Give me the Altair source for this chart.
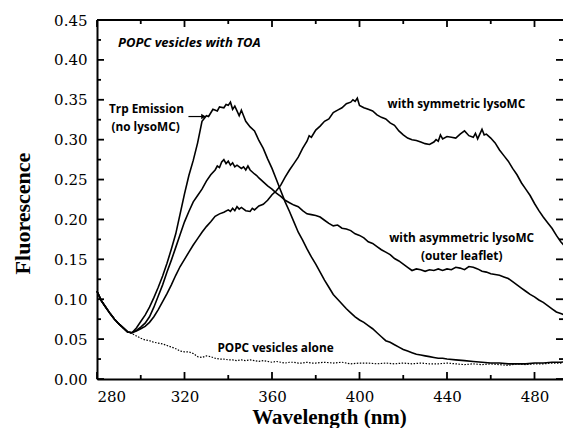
import altair as alt
import pandas as pd

# ---------------- data ----------------
# shared start of every curve (280-294 nm)
nm_start = [280, 282, 284, 286, 288, 290, 292, 294]
val_start = [0.110, 0.098, 0.090, 0.082, 0.075, 0.069, 0.064, 0.059]

# Trp emission (no lysoMC)
nm_trp = [296, 298, 300, 302, 304, 306, 308, 310, 312, 314, 316, 318, 320, 322, 324, 326, 328,
          330, 331, 333, 335, 336, 338, 339, 340, 341, 342, 343, 344, 345, 346, 347, 348, 350,
          352, 353, 354, 356, 358, 360, 362, 364, 366, 368, 370, 372, 374, 376, 378, 380, 382,
          384, 386, 388, 390, 392, 394, 396, 398, 400, 402, 404, 406, 408, 410, 412, 414, 416,
          418, 420, 422, 424, 426, 428, 430, 432, 434, 436, 438, 440, 444, 448, 452, 456, 460,
          464, 468, 472, 476, 480, 484, 488, 492, 496]
val_trp = [0.058, 0.064, 0.072, 0.080, 0.090, 0.102, 0.115, 0.129, 0.145, 0.163, 0.182, 0.207,
           0.232, 0.255, 0.274, 0.296, 0.323, 0.330, 0.329, 0.338, 0.336, 0.341, 0.340, 0.344,
           0.343, 0.347, 0.338, 0.342, 0.336, 0.330, 0.337, 0.330, 0.323, 0.316, 0.311, 0.305,
           0.299, 0.289, 0.276, 0.264, 0.250, 0.236, 0.222, 0.210, 0.197, 0.184, 0.174, 0.163,
           0.153, 0.144, 0.134, 0.124, 0.115, 0.106, 0.100, 0.094, 0.088, 0.083, 0.078, 0.074,
           0.071, 0.067, 0.063, 0.058, 0.053, 0.048, 0.046, 0.043, 0.040, 0.037, 0.035, 0.033,
           0.031, 0.030, 0.029, 0.028, 0.027, 0.026, 0.026, 0.025, 0.024, 0.023, 0.022, 0.021,
           0.020, 0.020, 0.019, 0.019, 0.019, 0.020, 0.020, 0.021, 0.021, 0.022]

# with asymmetric lysoMC (outer leaflet)
nm_asym = [296, 298, 300, 302, 304, 306, 308, 310, 312, 314, 316, 318, 320, 322, 324, 326, 328,
           330, 332, 334, 335, 336, 337, 338, 339, 340, 341, 342, 343, 344, 346, 347, 348, 349,
           350, 352, 353, 354, 356, 358, 360, 362, 364, 366, 368, 370, 372, 374, 376, 378, 380,
           382, 384, 386, 388, 390, 392, 394, 396, 398, 400, 402, 404, 406, 408, 410, 412, 414,
           416, 418, 420, 422, 424, 426, 428, 430, 432, 434, 436, 438, 440, 442, 444, 446, 448,
           450, 452, 454, 456, 458, 460, 462, 464, 466, 468, 470, 472, 474, 476, 478, 480, 482,
           484, 486, 488, 490, 492, 494, 496]
val_asym = [0.058, 0.061, 0.065, 0.070, 0.078, 0.090, 0.104, 0.118, 0.134, 0.149, 0.165, 0.181,
            0.197, 0.210, 0.222, 0.230, 0.238, 0.248, 0.256, 0.262, 0.267, 0.265, 0.272, 0.275,
            0.270, 0.273, 0.268, 0.271, 0.266, 0.268, 0.264, 0.266, 0.262, 0.267, 0.262, 0.257,
            0.255, 0.252, 0.247, 0.242, 0.238, 0.233, 0.229, 0.224, 0.221, 0.218, 0.216, 0.211,
            0.207, 0.206, 0.205, 0.203, 0.199, 0.195, 0.192, 0.193, 0.189, 0.188, 0.186, 0.182,
            0.180, 0.177, 0.172, 0.170, 0.166, 0.162, 0.159, 0.156, 0.151, 0.148, 0.144, 0.140,
            0.136, 0.138, 0.137, 0.135, 0.137, 0.136, 0.138, 0.136, 0.138, 0.137, 0.140, 0.139,
            0.137, 0.141, 0.140, 0.138, 0.135, 0.134, 0.132, 0.131, 0.130, 0.128, 0.126, 0.122,
            0.118, 0.114, 0.110, 0.106, 0.103, 0.099, 0.096, 0.092, 0.088, 0.084, 0.082, 0.080,
            0.077]

# with symmetric lysoMC
nm_sym = [296, 298, 300, 302, 304, 306, 308, 310, 312, 314, 316, 318, 320, 322, 324, 326, 328,
          330, 332, 334, 336, 338, 340, 341, 342, 343, 344, 345, 346, 348, 350, 351, 352, 354,
          356, 358, 360, 362, 364, 366, 368, 370, 372, 374, 376, 377, 378, 380, 382, 384, 386,
          388, 390, 392, 394, 396, 397, 398, 399, 400, 402, 404, 406, 408, 410, 412, 414, 416,
          418, 420, 422, 424, 426, 428, 430, 432, 434, 435, 436, 437, 438, 440, 442, 444, 446,
          448, 449, 450, 452, 453, 454, 456, 457, 458, 460, 462, 464, 466, 468, 470, 472, 474,
          476, 478, 480, 482, 484, 486, 488, 490, 492, 494, 496]
val_sym = [0.058, 0.060, 0.063, 0.066, 0.071, 0.078, 0.087, 0.097, 0.107, 0.118, 0.130, 0.141,
           0.150, 0.159, 0.168, 0.176, 0.184, 0.191, 0.197, 0.204, 0.207, 0.209, 0.212, 0.210,
           0.214, 0.211, 0.216, 0.213, 0.215, 0.211, 0.210, 0.214, 0.212, 0.217, 0.219, 0.224,
           0.231, 0.236, 0.243, 0.253, 0.262, 0.270, 0.278, 0.289, 0.298, 0.305, 0.303, 0.312,
           0.317, 0.323, 0.326, 0.334, 0.337, 0.340, 0.345, 0.347, 0.350, 0.348, 0.352, 0.343,
           0.340, 0.338, 0.336, 0.331, 0.328, 0.326, 0.321, 0.318, 0.311, 0.306, 0.302, 0.300,
           0.299, 0.297, 0.295, 0.294, 0.297, 0.300, 0.298, 0.306, 0.301, 0.304, 0.303, 0.302,
           0.307, 0.311, 0.308, 0.305, 0.303, 0.308, 0.301, 0.313, 0.306, 0.307, 0.302, 0.296,
           0.287, 0.280, 0.273, 0.264, 0.256, 0.246, 0.238, 0.230, 0.220, 0.211, 0.203, 0.196,
           0.189, 0.180, 0.172, 0.166, 0.159]

# POPC vesicles alone (dotted)
nm_popc = [296, 298, 300, 302, 304, 306, 308, 310, 312, 314, 316, 318, 320, 322, 324, 326, 328,
           330, 332, 334, 336, 338, 340, 342, 344, 346, 348, 350, 352, 354, 356, 358, 360, 362,
           364, 366, 368, 370, 372, 374, 376, 378, 380, 384, 388, 392, 396, 400, 404, 408, 412,
           416, 420, 424, 428, 432, 436, 440, 444, 448, 452, 456, 460, 464, 468, 472, 476, 480,
           484, 488, 492, 496]
val_popc = [0.057, 0.054, 0.051, 0.049, 0.048, 0.046, 0.045, 0.044, 0.042, 0.040, 0.038, 0.035,
            0.034, 0.034, 0.032, 0.028, 0.027, 0.029, 0.028, 0.026, 0.025, 0.025, 0.024, 0.024,
            0.023, 0.024, 0.023, 0.024, 0.023, 0.022, 0.023, 0.022, 0.021, 0.022, 0.021, 0.020,
            0.021, 0.021, 0.020, 0.020, 0.021, 0.020, 0.020, 0.021, 0.020, 0.021, 0.019, 0.020,
            0.020, 0.019, 0.020, 0.019, 0.020, 0.019, 0.020, 0.019, 0.019, 0.020, 0.019, 0.018,
            0.019, 0.018, 0.019, 0.018, 0.017, 0.019, 0.018, 0.019, 0.019, 0.020, 0.020, 0.021]

# axis ticks
x_major = [280, 320, 360, 400, 440, 480]
x_minor = [300, 340, 380, 420, 460]
y_major = [0.0, 0.05, 0.10, 0.15, 0.20, 0.25, 0.30, 0.35, 0.40, 0.45]
y_minor = [0.025, 0.075, 0.125, 0.175, 0.225, 0.275, 0.325, 0.375, 0.425]

# annotations (data coordinates)
label_text = ["Trp Emission", "(no lysoMC)", "with symmetric lysoMC",
              "with asymmetric lysoMC", "(outer leaflet)", "POPC vesicles alone"]
label_nm = [302.6, 302.2, 444.3, 446.7, 446.7, 361.6]
label_val = [0.339, 0.3155, 0.3445, 0.1762, 0.1542, 0.0394]
title_text = ["POPC vesicles with TOA"]
title_nm = [289.6]
title_val = [0.421]
arrow_nm = [321.8, 330.3]
arrow_val = [0.329]

# ---------------- build tables ----------------
W, H = 466, 359
XMIN, XMAX = 280, 280 + W / 87.5 * 40
YMIN, YMAX = 0.0, 0.45
px_x = (XMAX - XMIN) / W     # nm per pixel
px_y = (YMAX - YMIN) / H     # fluorescence per pixel

rows = []
for name, xs_, vs_ in [("trp", nm_trp, val_trp), ("asym", nm_asym, val_asym),
                       ("sym", nm_sym, val_sym)]:
    for a, b in zip(nm_start + xs_, val_start + vs_):
        rows.append({"series": name, "nm": a, "val": b})
solid = pd.DataFrame(rows)

# inward tick segments + top frame, drawn as two-point line pieces
trows = []
k = 0
for vals, L in [(x_major, 7), (x_minor, 4)]:
    for v in vals:
        for lo, hi in [(YMIN, YMIN + L * px_y), (YMAX - L * px_y, YMAX)]:
            trows.append({"series": f"t{k}", "nm": v, "val": lo})
            trows.append({"series": f"t{k}", "nm": v, "val": hi})
            k += 1
for vals, L in [(y_major, 7), (y_minor, 4)]:
    for v in vals:
        for lo, hi in [(XMIN, XMIN + L * px_x), (XMAX - L * px_x, XMAX)]:
            trows.append({"series": f"t{k}", "nm": lo, "val": v})
            trows.append({"series": f"t{k}", "nm": hi, "val": v})
            k += 1
trows.append({"series": "frame", "nm": XMIN, "val": YMAX})
trows.append({"series": "frame", "nm": XMAX, "val": YMAX})
tick_df = pd.DataFrame(trows)

dotted = pd.DataFrame({"series": "popc", "nm": nm_start + nm_popc, "val": val_start + val_popc})
labels = pd.DataFrame({"text": label_text, "nm": label_nm, "val": label_val})
title_df = pd.DataFrame({"text": title_text, "nm": title_nm, "val": title_val})
arrow_df = pd.DataFrame({"nm": [arrow_nm[0]], "nm2": [arrow_nm[1] - 2], "val": arrow_val})
head_df = pd.DataFrame({"nm": [arrow_nm[1] - 1.6], "val": arrow_val})

xsc = alt.Scale(domain=[XMIN, XMAX], nice=False, zero=False)
ysc = alt.Scale(domain=[YMIN, YMAX], nice=False, zero=False)

SERIF = "DejaVu Serif"
TSERIF = "Liberation Serif"
SANS = "Open Sans"

xaxis = alt.Axis(
    orient="bottom", values=x_major, format="d", ticks=False, tickSize=0,
    labelFont=SERIF, labelFontSize=15, labelColor="black", labelPadding=10,
    domain=True, domainColor="black", domainWidth=2, grid=False,
    title="Wavelength (nm)", titleFont=TSERIF, titleFontSize=21, titleFontWeight="bold",
    titleColor="black", titleX=232, titleY=44, titleBaseline="alphabetic",
    titleAlign="center")
yaxis = alt.Axis(
    orient="left", values=y_major, format=".2f", ticks=False, tickSize=0,
    labelFont=SERIF, labelFontSize=15, labelColor="black", labelPadding=10,
    domain=True, domainColor="black", domainWidth=2, grid=False,
    title="Fluorescence", titleFont=TSERIF, titleFontSize=22, titleFontWeight="bold",
    titleColor="black", titleX=-75, titleY=193, titleAngle=270,
    titleBaseline="middle", titleAlign="center")


def X():
    return alt.X("nm:Q", scale=xsc, axis=xaxis)


def Y():
    return alt.Y("val:Q", scale=ysc, axis=yaxis)


main = alt.Chart(solid).mark_line(color="black", strokeWidth=1.6).encode(
    x=X(), y=Y(), detail="series:N")

tick_lines = alt.Chart(tick_df).mark_line(color="black", strokeWidth=1.8).encode(
    x=X(), y=Y(), detail="series:N")

dots = alt.Chart(dotted).mark_line(color="black", strokeWidth=1.2,
                                   strokeDash=[1.5, 1.5]).encode(x=X(), y=Y())

lab = alt.Chart(labels).mark_text(font=SANS, fontSize=11.8, fontWeight="bold", color="black",
                                  align="center", baseline="middle").encode(
    x=X(), y=Y(), text="text:N")
ttl = alt.Chart(title_df).mark_text(font=SANS, fontSize=13, fontWeight="bold", fontStyle="italic",
                                    color="black", align="left", baseline="middle").encode(
    x=X(), y=Y(), text="text:N")
arr = alt.Chart(arrow_df).mark_rule(color="black", strokeWidth=1.2).encode(
    x=X(), x2="nm2:Q", y=Y())
head = alt.Chart(head_df).mark_point(shape="triangle-right", filled=True, color="black",
                                     size=30, opacity=1).encode(x=X(), y=Y())

chart = alt.layer(main, dots, lab, ttl, arr, head, tick_lines).properties(
    width=W, height=H,
    autosize=alt.AutoSizeParams(type="none"),
    padding={"left": 89, "top": 12, "right": 0, "bottom": 49},
).configure_view(stroke=None)

chart.save("out.html", embed_options={"renderer": "svg", "actions": False})
